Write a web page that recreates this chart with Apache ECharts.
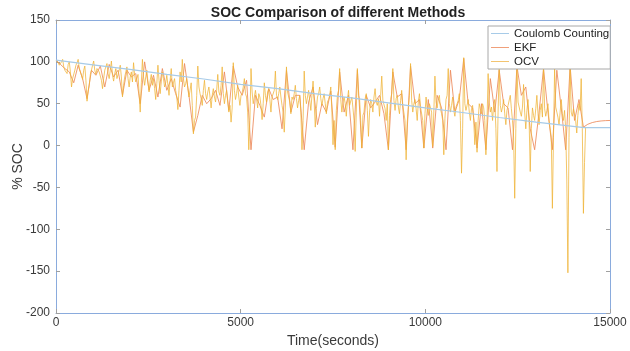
<!DOCTYPE html>
<html>
<head>
<meta charset="utf-8">
<script src="https://cdn.jsdelivr.net/npm/echarts@6/dist/echarts.min.js"></script>
<style>html,body{margin:0;padding:0;background:#fff}#c{width:630px;height:351px}</style>
</head>
<body>
<div id="c"></div>
<script>
// ---- data ----
const titleText = 'SOC Comparison of different Methods';
const seriesNames = ['Coulomb Counting', 'EKF', 'OCV'];
const xTicks = [0, 5000, 10000, 15000];
const yTicks = [-200, -150, -100, -50, 0, 50, 100, 150];

// Coulomb counting: time (s) and SOC (%)
const ccTime = [0, 1000, 2000, 3000, 4000, 5000, 6000, 7000, 8000, 9000, 10000, 11000, 12000, 13000, 14000, 14300, 15000];
const ccSOC  = [102, 96.5, 91, 85, 79.5, 73, 68, 62, 57, 51, 45, 39.5, 33.5, 28, 23, 21.5, 21.5];

// OCV estimate, sampled every 30 s from t = 0
const OCV_DT = 30;
const ocvSOC = [
  102,100, 99,96, 95,100, 103,94, 90,92, 86,97, 100,88, 70,80, 82,90, 96,99,
  103,92, 88,84, 79,90, 95,78, 53,65, 72,85, 90,96, 101,90, 85,92, 94,88,
  86,78, 68,80, 90,94, 98,86, 80,90, 101,84, 77,86, 92,80, 85,90, 96,82,
  58,72, 82,88, 94,80, 70,82, 88,76, 99,84, 76,80, 85,62, 40,75, 103,82,
  72,82, 90,76, 64,78, 85,72, 80,68, 55,74, 96,78, 62,76, 88,80, 70,75,
  84,72, 60,78, 92,70, 75,80, 66,58, 43,66, 88,76, 103,80, 70,74, 80,68,
  58,66, 75,48, 14,30, 34,60, 95,70, 62,56, 48,66, 78,62, 55,64, 70,58,
  45,60, 68,58, 52,66, 85,64, 60,72, 94,62, 50,60, 66,52, 40,48, 28,45,
  99,66, 55,62, 72,58, 48,60, 63,70, 80,62, 58,40, -5,30, 92,64, 50,58,
  66,56, 45,62, 58,48, 31,50, 75,60, 52,64, 68,55, 40,58, 60,66, 89,60,
  55,62, 70,58, 48,40, 16,46, 94,64, 62,52, 38,58, 55,62, 72,56, 45,54,
  60,40, -5,30, 89,60, 50,58, 66,54, 42,60, 77,52, 22,44, 58,62, 70,56,
  48,56, 62,50, 38,52, 55,60, 70,40, 1,30, -5,42, 60,66, 92,55, 40,52,
  58,50, 35,54, 66,48, 50,58, 45,30, -7,40, 92,60, 55,30, -3,36, 40,56,
  62,42, 11,40, 55,50, 40,58, 68,52, 48,56, 35,60, 83,54, 52,44, 30,50,
  -5,36, 55,62, 92,54, 42,56, 60,46, 38,54, 66,48, 50,30, -17,28, 45,60,
  98,54, 40,50, 55,44, 30,52, 62,46, 48,30, -3,38, 58,44, 36,50, 52,40,
  -1,40, 83,52, 45,56, 60,44, 38,30, -11,32, 55,60, 92,50, 40,48, 58,42,
  35,46, 50,54, 62,30, -33,20, 105,50, 42,48, 55,40, 30,44, 48,30, 1,28,
  -8,30, 50,44, 38,50, 45,30, -11,28, 86,52, 40,46, 30,48, 55,20, -31,40,
  92,48, 40,46, 55,38, 25,42, 48,50, 60,44, 30,10, -63,20, 95,52, 50,40,
  35,46, 73,40, 20,42, 55,30, -31,20, 45,36, 30,44, 60,38, 25,42, 50,34,
  92,44, 35,42, 50,30, 20,10, -75,10, 92,46, 40,34, 25,40, 55,38, 30,42,
  20,-40, -152,10, 95,40, 35,44, 45,30, 15,36, 50,42, 80,20, -81,-20, 22
];

// EKF estimate, sampled every 120 s from t = 0 (ends with the recovery tail)
const EKF_DT = 120;
const ekfSOC = [
  102, 97, 92, 88, 75, 96, 80, 56, 90, 84,
  95, 70, 97, 82, 90, 60, 90, 82, 86, 50,
  100, 66, 84, 58, 92, 66, 80, 62, 46, 98,
  60, 16, 36, 60, 50, 56, 66, 48, 88, 42,
  95, 70, 60, 78, -5, 60, 48, 34, 68, 55,
  58, 20, 90, 40, 60, 60, -5, 52, 70, 25,
  50, 40, 65, -2, 88, 40, 60, -5, 90, -3,
  60, 45, 52, 60, 38, -5, 88, 58, 62, -5,
  95, 50, 55, -3, 55, -3, 60, 45, -5, 90,
  40, 55, 104, 50, 45, -3, 50, -5, 80, 40,
  90, 50, 45, -5, 95, 60, 70, 20, -5, 40,
  92, 40, -5, 90, 45, -5, 95, 30, 55, 22,
  25.5, 27.5, 28.7, 29.4, 29.8, 30
];

// ---- chart ----
const FONT = 'Liberation Sans, Arial, Helvetica, sans-serif';
const axisBlue = '#8aabdd';
const tickGray = '#a0a0a0';
const labelCol = '#3a3a3a';

const ccData = ccTime.map((t, i) => [t, ccSOC[i]]);
const ocvData = ocvSOC.map((v, i) => [i * OCV_DT, v]);
const ekfData = ekfSOC.map((v, i) => [i * EKF_DT, v]);

const chart = echarts.init(document.getElementById('c'), null, {renderer: 'canvas'});
const baseX = {
  type: 'value', min: xTicks[0], max: xTicks[xTicks.length - 1], interval: 5000,
  splitLine: {show: false},
  axisLine: {show: true, onZero: false, lineStyle: {color: axisBlue, width: 1}},
  axisTick: {show: true, inside: true, length: 4, lineStyle: {color: tickGray}}
};
const baseY = {
  type: 'value', min: yTicks[0], max: yTicks[yTicks.length - 1], interval: 50,
  splitLine: {show: false},
  axisLine: {show: true, onZero: false, lineStyle: {color: axisBlue, width: 1}},
  axisTick: {show: true, inside: true, length: 4, lineStyle: {color: tickGray}}
};
chart.setOption({
  animation: false,
  backgroundColor: '#ffffff',
  title: {
    text: titleText, left: 333, top: 1, textAlign: 'center',
    textStyle: {fontFamily: FONT, fontSize: 14, fontWeight: 'bold', color: '#222'}
  },
  grid: {left: 56, right: 20, top: 20, bottom: 38, outerBoundsMode: 'none', containLabel: false},
  legend: {
    data: seriesNames,
    orient: 'vertical', left: 488, top: 26,
    icon: 'rect',
    backgroundColor: '#ffffff', borderColor: '#a8a8a8', borderWidth: 1, borderRadius: 0,
    padding: [1, 1, 1, 3], itemGap: 1, itemWidth: 18, itemHeight: 1,
    textStyle: {fontFamily: FONT, fontSize: 11.5, color: '#222', lineHeight: 13}
  },
  xAxis: [
    Object.assign({}, baseX, {
      position: 'bottom',
      name: 'Time(seconds)', nameLocation: 'middle', nameGap: 21, nameMoveOverlap: false,
      nameTextStyle: {fontFamily: FONT, fontSize: 14, color: labelCol},
      axisLabel: {fontFamily: FONT, fontSize: 12, color: labelCol, margin: 4, formatter: v => String(v)}
    }),
    Object.assign({}, baseX, {position: 'top', axisLabel: {show: false}})
  ],
  yAxis: [
    Object.assign({}, baseY, {
      position: 'left',
      name: '% SOC', nameLocation: 'middle', nameGap: 31, nameRotate: 90, nameMoveOverlap: false,
      nameTextStyle: {fontFamily: FONT, fontSize: 14, color: labelCol},
      axisLabel: {fontFamily: FONT, fontSize: 12, color: labelCol, margin: 6}
    }),
    Object.assign({}, baseY, {position: 'right', axisLabel: {show: false}})
  ],
  series: [
    {
      name: seriesNames[0], type: 'line', data: ccData, z: 5,
      symbol: 'none', lineStyle: {color: '#a7cbe8', width: 1.2}, itemStyle: {color: '#a7cbe8'}
    },
    {
      name: seriesNames[1], type: 'line', data: ekfData, z: 2,
      symbol: 'none', lineStyle: {color: '#ec8a5a', width: 1, opacity: 0.85}, itemStyle: {color: '#f0a07a'}
    },
    {
      name: seriesNames[2], type: 'line', data: ocvData, z: 3,
      symbol: 'none', lineStyle: {color: '#efb335', width: 1, opacity: 0.75}, itemStyle: {color: '#f3c470'}
    }
  ]
});
</script>
</body>
</html>
